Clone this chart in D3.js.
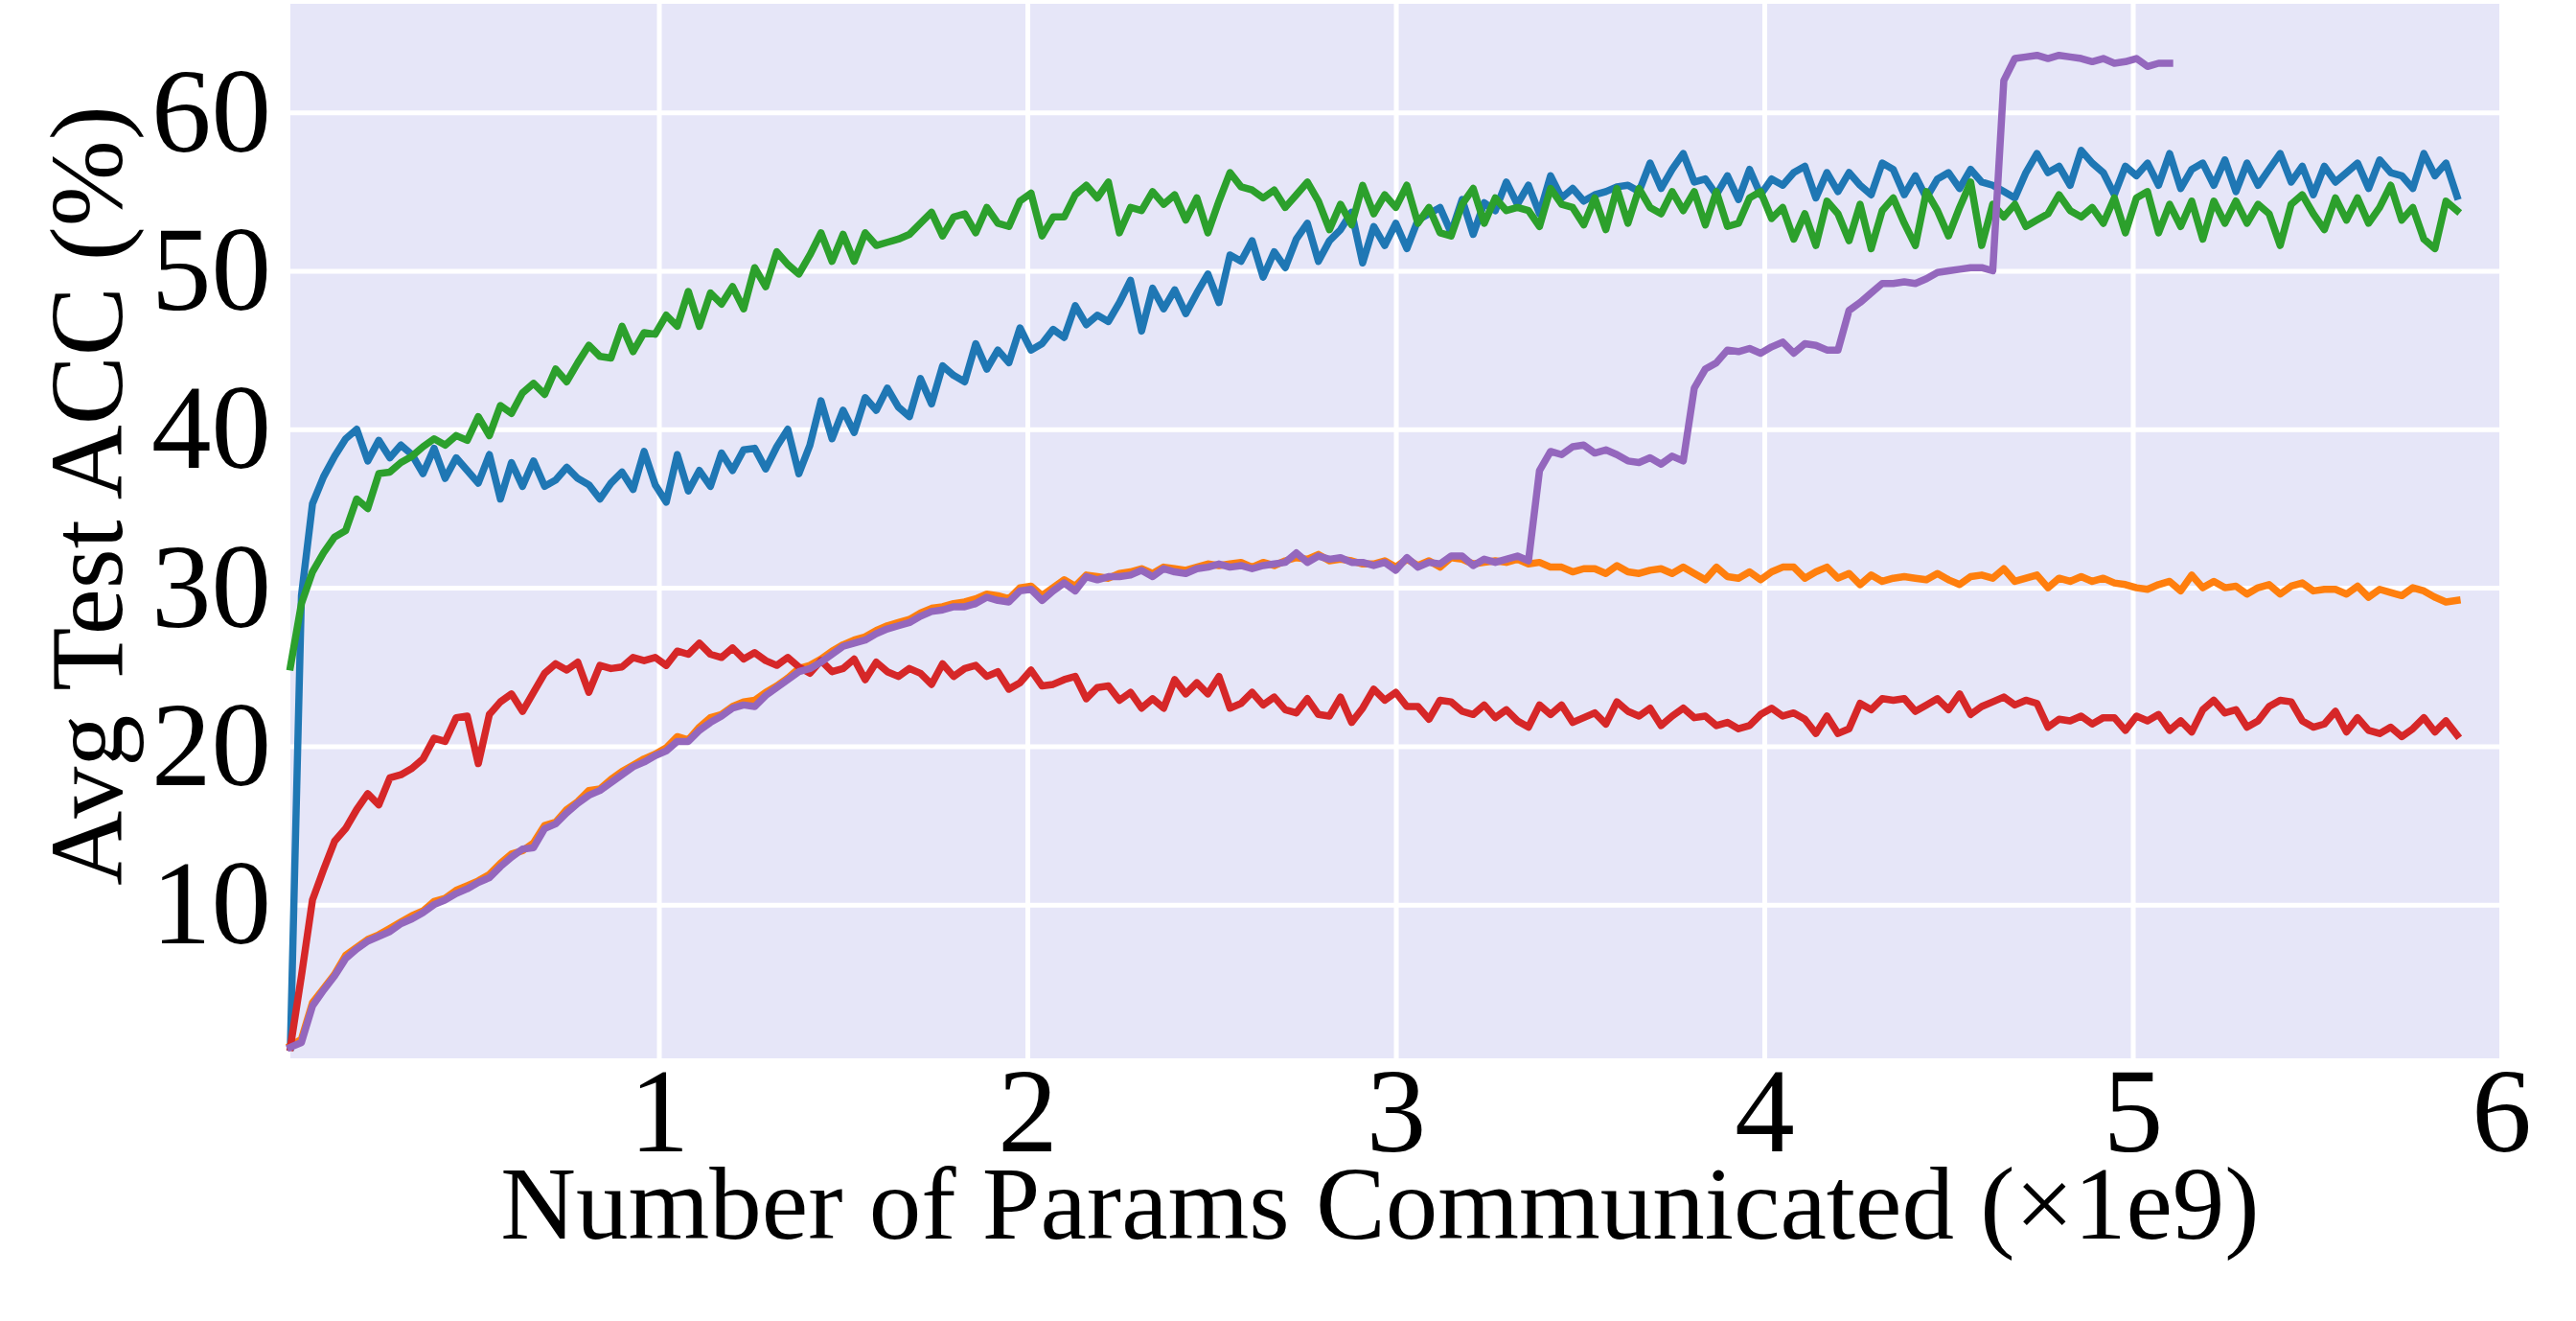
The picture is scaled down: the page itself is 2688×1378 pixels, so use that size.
<!DOCTYPE html>
<html>
<head>
<meta charset="utf-8">
<script src="https://cdn.jsdelivr.net/npm/d3@7"></script>
<style>
  html, body { margin: 0; padding: 0; background: #fff; }
  svg { display: block; }
</style>
</head>
<body>
<script>
// x step between logged rounds, in units of 1e9 params communicated
const X_STEP = 0.03;

const xTicks = [1, 2, 3, 4, 5, 6];
const yTicks = [10, 20, 30, 40, 50, 60];

const blueAcc = [
  1.0, 29.5, 35.3, 37.0, 38.3, 39.4, 40.0, 38.0, 39.3, 38.2, 39.0,
  38.4, 37.2, 38.8, 36.9, 38.2, 37.4, 36.6, 38.4, 35.6, 37.9,
  36.4, 38.0, 36.4, 36.8, 37.6, 36.9, 36.5, 35.6, 36.6, 37.3,
  36.2, 38.6, 36.5, 35.4, 38.4, 36.1, 37.4, 36.4, 38.5, 37.4,
  38.7, 38.8, 37.5, 38.9, 40.0, 37.2, 39.0, 41.8, 39.4, 41.2,
  39.8, 42.0, 41.2, 42.6, 41.4, 40.8, 43.2, 41.6, 44.0, 43.4,
  43.0, 45.4, 43.8, 45.0, 44.2, 46.4, 45.0, 45.4, 46.3, 45.8,
  47.8, 46.6, 47.2, 46.8, 48.0, 49.4, 46.2, 48.9, 47.6, 48.8,
  47.3, 48.6, 49.8, 48.0, 51.0, 50.6, 51.9, 49.6, 51.2, 50.2,
  52.0, 53.0, 50.6, 51.9, 52.6, 53.7, 50.5, 52.8, 51.6, 53.0,
  51.4, 53.2, 53.6, 54.0, 52.4, 54.5, 52.3, 54.3, 53.8, 55.6,
  54.2, 55.4, 53.6, 56.0, 54.6, 55.2, 54.4, 54.8, 55.0, 55.3,
  55.4, 55.0, 56.8, 55.2, 56.4, 57.4, 55.6, 55.8, 54.8, 56.0,
  54.5, 56.4, 54.8, 55.8, 55.4, 56.2, 56.6, 54.6, 56.2, 55.0,
  56.2, 55.4, 54.8, 56.8, 56.4, 54.8, 56.0, 54.6, 55.8, 56.2,
  55.2, 56.4, 55.6, 55.4, 55.0, 54.6, 56.2, 57.4, 56.2, 56.6,
  55.4, 57.6, 56.8, 56.2, 54.8, 56.6, 56.0, 56.8, 55.4, 57.4,
  55.2, 56.4, 56.8, 55.4, 57.0, 55.0, 56.8, 55.4, 56.4, 57.4,
  55.6, 56.6, 54.8, 56.6, 55.6, 56.2, 56.8, 55.2, 57.0, 56.2,
  56.0, 55.2, 57.4, 56.0, 56.8, 54.7
];

const orangeAcc = [
  1.1, 1.5, 3.8, 4.7, 5.6, 6.8, 7.3, 7.8, 8.1, 8.5, 8.9,
  9.3, 9.6, 10.2, 10.4, 10.9, 11.2, 11.5, 11.9, 12.6, 13.2,
  13.4, 13.9, 15.0, 15.2, 16.0, 16.5, 17.2, 17.3, 17.9, 18.4,
  18.8, 19.2, 19.5, 19.9, 20.6, 20.4, 21.2, 21.8, 22.0, 22.5,
  22.8, 22.9, 23.4, 23.8, 24.3, 24.9, 25.1, 25.5, 26.0, 26.4,
  26.7, 26.9, 27.3, 27.6, 27.8, 28.0, 28.4, 28.7, 28.8, 29.0,
  29.1, 29.3, 29.6, 29.5, 29.3, 30.0, 30.1, 29.5, 30.0, 30.5,
  30.1, 30.8, 30.7, 30.6, 30.9, 31.0, 31.2, 30.9, 31.3, 31.2,
  31.1, 31.3, 31.5, 31.4, 31.5, 31.6, 31.3, 31.6, 31.4, 31.7,
  31.9, 31.8, 32.1, 31.7, 31.8, 31.7, 31.5, 31.5, 31.7, 31.3,
  31.8, 31.4, 31.7, 31.3, 31.9, 31.8, 31.5, 31.6, 31.7, 31.6,
  31.8, 31.5, 31.6, 31.3, 31.3, 31.0, 31.2, 31.2, 30.9, 31.4,
  31.0, 30.9, 31.1, 31.2, 30.9, 31.3, 30.9, 30.5, 31.3, 30.7,
  30.6, 31.0, 30.5, 31.0, 31.3, 31.3, 30.6, 31.0, 31.3, 30.6,
  30.9, 30.2, 30.8, 30.4, 30.6, 30.7, 30.6, 30.5, 30.9, 30.5,
  30.2, 30.7, 30.8, 30.6, 31.2, 30.4, 30.6, 30.8, 30.0, 30.6,
  30.4, 30.7, 30.4, 30.6, 30.3, 30.2, 30.0, 29.9, 30.2, 30.4,
  29.8, 30.8, 30.0, 30.4, 30.0, 30.1, 29.6, 30.0, 30.2, 29.6,
  30.1, 30.3, 29.8, 29.9, 29.9, 29.6, 30.1, 29.4, 29.9, 29.7,
  29.5, 30.0, 29.8, 29.4, 29.1, 29.2
];

const greenAcc = [
  25.0, 29.0, 31.0, 32.2, 33.2, 33.6, 35.6, 35.0, 37.2, 37.3, 37.9,
  38.3, 38.9, 39.4, 39.0, 39.6, 39.3, 40.8, 39.6, 41.5, 41.0,
  42.3, 42.9, 42.2, 43.8, 43.0, 44.2, 45.3, 44.6, 44.5, 46.5,
  44.9, 46.1, 46.0, 47.2, 46.5, 48.7, 46.5, 48.6, 47.9, 49.0,
  47.6, 50.2, 49.0, 51.2, 50.4, 49.8, 51.0, 52.4, 50.6, 52.3,
  50.6, 52.4, 51.6, 51.8, 52.0, 52.3, 53.0, 53.7, 52.2, 53.4,
  53.6, 52.4, 54.0, 53.0, 52.8, 54.4, 54.9, 52.2, 53.4, 53.4,
  54.8, 55.4, 54.6, 55.6, 52.4, 54.0, 53.8, 55.0, 54.2, 54.8,
  53.2, 54.6, 52.4, 54.4, 56.2, 55.3, 55.1, 54.6, 55.1, 54.0,
  54.8, 55.6, 54.4, 52.6, 54.2, 52.9, 55.4, 53.6, 54.8, 54.0,
  55.4, 53.0, 54.0, 52.4, 52.2, 54.2, 55.2, 53.0, 54.6, 53.8,
  54.0, 53.8, 52.8, 55.2, 54.2, 54.0, 52.9, 54.6, 52.6, 55.2,
  53.0, 55.2, 54.0, 53.6, 55.0, 53.8, 55.0, 52.9, 55.0, 52.8,
  53.0, 54.6, 55.0, 53.3, 54.0, 52.0, 53.6, 51.6, 54.4, 53.6,
  51.9, 54.2, 51.4, 53.8, 54.6, 53.0, 51.6, 55.0, 53.8, 52.2,
  54.0, 55.6, 51.6, 54.2, 53.4, 54.2, 52.8, 53.2, 53.6, 54.8,
  53.8, 53.4, 54.0, 53.0, 54.6, 52.4, 54.6, 55.0, 52.4, 54.2,
  52.8, 54.4, 52.0, 54.4, 53.0, 54.4, 53.0, 54.2, 53.6, 51.6,
  54.2, 54.8, 53.6, 52.6, 54.6, 53.2, 54.6, 53.0, 54.0, 55.4,
  53.2, 54.0, 52.0, 51.4, 54.4, 53.8
];

const redAcc = [
  1.0, 5.5, 10.3, 12.2, 14.0, 14.8, 16.0, 17.0, 16.3, 18.0, 18.2,
  18.6, 19.2, 20.5, 20.3, 21.8, 21.9, 18.9, 22.0, 22.8, 23.3,
  22.2, 23.4, 24.6, 25.2, 24.8, 25.3, 23.4, 25.1, 24.9, 25.0,
  25.6, 25.4, 25.6, 25.1, 26.0, 25.8, 26.5, 25.8, 25.6, 26.2,
  25.5, 25.9, 25.4, 25.1, 25.6, 25.0, 24.6, 25.4, 24.7, 24.9,
  25.5, 24.2, 25.3, 24.7, 24.4, 24.9, 24.6, 23.9, 25.2, 24.4,
  24.9, 25.1, 24.4, 24.7, 23.6, 24.0, 24.8, 23.8, 23.9, 24.2,
  24.4, 23.0, 23.7, 23.8, 22.9, 23.4, 22.4, 23.0, 22.4, 24.2,
  23.3, 24.0, 23.3, 24.4, 22.4, 22.7, 23.4, 22.6, 23.1, 22.3,
  22.1, 23.0, 22.0, 21.9, 23.1, 21.5, 22.4, 23.6, 22.9, 23.4,
  22.5, 22.5, 21.7, 22.9, 22.8, 22.2, 22.0, 22.6, 21.8, 22.3,
  21.6, 21.2, 22.6, 22.0, 22.6, 21.5, 21.8, 22.1, 21.4, 22.8,
  22.2, 21.9, 22.4, 21.3, 21.9, 22.4, 21.8, 21.9, 21.3, 21.5,
  21.1, 21.3, 22.0, 22.4, 21.9, 22.1, 21.7, 20.8, 21.9, 20.8,
  21.1, 22.7, 22.3, 23.0, 22.9, 23.0, 22.2, 22.6, 23.0, 22.3,
  23.3, 22.0, 22.5, 22.8, 23.1, 22.6, 22.9, 22.7, 21.2, 21.7,
  21.6, 21.9, 21.4, 21.8, 21.8, 21.0, 21.9, 21.6, 22.0, 21.0,
  21.6, 20.9, 22.3, 22.9, 22.1, 22.3, 21.2, 21.6, 22.5, 22.9,
  22.8, 21.6, 21.2, 21.4, 22.2, 20.9, 21.8, 21.0, 20.8, 21.2,
  20.6, 21.1, 21.8, 20.9, 21.6, 20.7
];

const purpleAcc = [
  1.0, 1.3, 3.6, 4.6, 5.5, 6.6, 7.2, 7.7, 8.0, 8.3, 8.8,
  9.1, 9.5, 10.0, 10.3, 10.7, 11.0, 11.4, 11.7, 12.4, 13.0,
  13.5, 13.6, 14.8, 15.1, 15.8, 16.4, 16.9, 17.2, 17.7, 18.2,
  18.7, 19.0, 19.4, 19.7, 20.3, 20.3, 21.0, 21.5, 21.9, 22.4,
  22.6, 22.5, 23.2, 23.7, 24.2, 24.7, 24.9, 25.3, 25.8, 26.3,
  26.5, 26.7, 27.1, 27.4, 27.6, 27.8, 28.2, 28.5, 28.6, 28.8,
  28.8, 29.0, 29.4, 29.2, 29.1, 29.8, 29.9, 29.2, 29.8, 30.3,
  29.8, 30.7, 30.5, 30.7, 30.7, 30.8, 31.1, 30.7, 31.2, 31.0,
  30.9, 31.2, 31.3, 31.5, 31.3, 31.4, 31.2, 31.4, 31.5, 31.6,
  32.2, 31.6, 32.0, 31.8, 31.9, 31.6, 31.6, 31.4, 31.6, 31.1,
  31.9, 31.3, 31.6, 31.5, 32.0, 32.0, 31.4, 31.8, 31.6, 31.8,
  32.0, 31.7, 37.4, 38.6, 38.4, 38.9, 39.0, 38.5, 38.7, 38.4,
  38.0, 37.9, 38.2, 37.8, 38.3, 38.0, 42.6, 43.8, 44.2, 45.0,
  44.9, 45.1, 44.8, 45.2, 45.5, 44.8, 45.4, 45.3, 45.0, 45.0,
  47.5, 48.0, 48.6, 49.2, 49.2, 49.3, 49.2, 49.5, 49.9, 50.0,
  50.1, 50.2, 50.2, 50.0, 62.0, 63.4, 63.5, 63.6, 63.4, 63.6,
  63.5, 63.4, 63.2, 63.4, 63.1, 63.2, 63.4, 62.9, 63.1, 63.1
];

document.addEventListener('DOMContentLoaded', function() {
  const W = 2688, H = 1378;
  const margin = {top: 4, right: 78, bottom: 274, left: 303};
  const plotW = W - margin.left - margin.right;
  const plotH = H - margin.top - margin.bottom;
  const serif = '"Liberation Serif", "Times New Roman", Times, serif';

  // drawing order matches the plot: later lines sit on top
  const series = [
    {values: blueAcc, color: '#1f77b4'},
    {values: orangeAcc, color: '#ff7f0e'},
    {values: greenAcc, color: '#2ca02c'},
    {values: redAcc, color: '#d62728'},
    {values: purpleAcc, color: '#9467bd'}
  ];

  const svg = d3.select('body')
    .append('svg')
    .attr('width', W)
    .attr('height', H)
    .attr('viewBox', `0 0 ${W} ${H}`);

  svg.append('rect')
    .attr('width', W).attr('height', H)
    .attr('fill', '#ffffff');

  const x = d3.scaleLinear()
    .domain([0, 6])
    .range([margin.left, W - margin.right]);

  const y = d3.scaleLinear()
    .domain([0.3, 66.85])
    .range([H - margin.bottom, margin.top]);

  // plot background
  svg.append('rect')
    .attr('x', margin.left)
    .attr('y', margin.top)
    .attr('width', plotW)
    .attr('height', plotH)
    .attr('fill', '#e6e6f8');

  // X axis with white grid lines
  const xAxis = svg.append('g')
    .attr('transform', `translate(0,${H - margin.bottom})`)
    .call(d3.axisBottom(x)
      .tickValues(xTicks)
      .tickFormat(d3.format('d'))
      .tickSize(-plotH)
      .tickPadding(8))
    .attr('font-family', serif)
    .attr('font-size', 125);
  xAxis.select('.domain').remove();
  xAxis.selectAll('.tick line')
    .attr('stroke', '#ffffff')
    .attr('stroke-width', 5);
  xAxis.selectAll('.tick text').attr('fill', '#000');

  // Y axis with white grid lines
  const yAxis = svg.append('g')
    .attr('transform', `translate(${margin.left},0)`)
    .call(d3.axisLeft(y)
      .tickValues(yTicks)
      .tickFormat(d3.format('d'))
      .tickSize(-plotW)
      .tickPadding(20))
    .attr('font-family', serif)
    .attr('font-size', 125);
  yAxis.select('.domain').remove();
  yAxis.selectAll('.tick line')
    .attr('stroke', '#ffffff')
    .attr('stroke-width', 5);
  yAxis.selectAll('.tick text').attr('fill', '#000');

  // Lines
  const line = d3.line()
    .x((d, i) => x(i * X_STEP))
    .y(d => y(d));

  svg.append('g')
    .selectAll('path')
    .data(series)
    .join('path')
    .attr('fill', 'none')
    .attr('stroke', d => d.color)
    .attr('stroke-width', 7.5)
    .attr('stroke-linejoin', 'round')
    .attr('stroke-linecap', 'square')
    .attr('d', d => line(d.values));

  // Axis titles
  svg.append('text')
    .attr('x', 1440)
    .attr('y', 1292)
    .attr('text-anchor', 'middle')
    .attr('font-family', serif)
    .attr('font-size', 109)
    .attr('fill', '#000')
    .text('Number of Params Communicated (×1e9)');

  svg.append('text')
    .attr('transform', 'translate(127,517) rotate(-90)')
    .attr('text-anchor', 'middle')
    .attr('font-family', serif)
    .attr('font-size', 108)
    .attr('fill', '#000')
    .text('Avg Test ACC (%)');
});
</script>
</body>
</html>
